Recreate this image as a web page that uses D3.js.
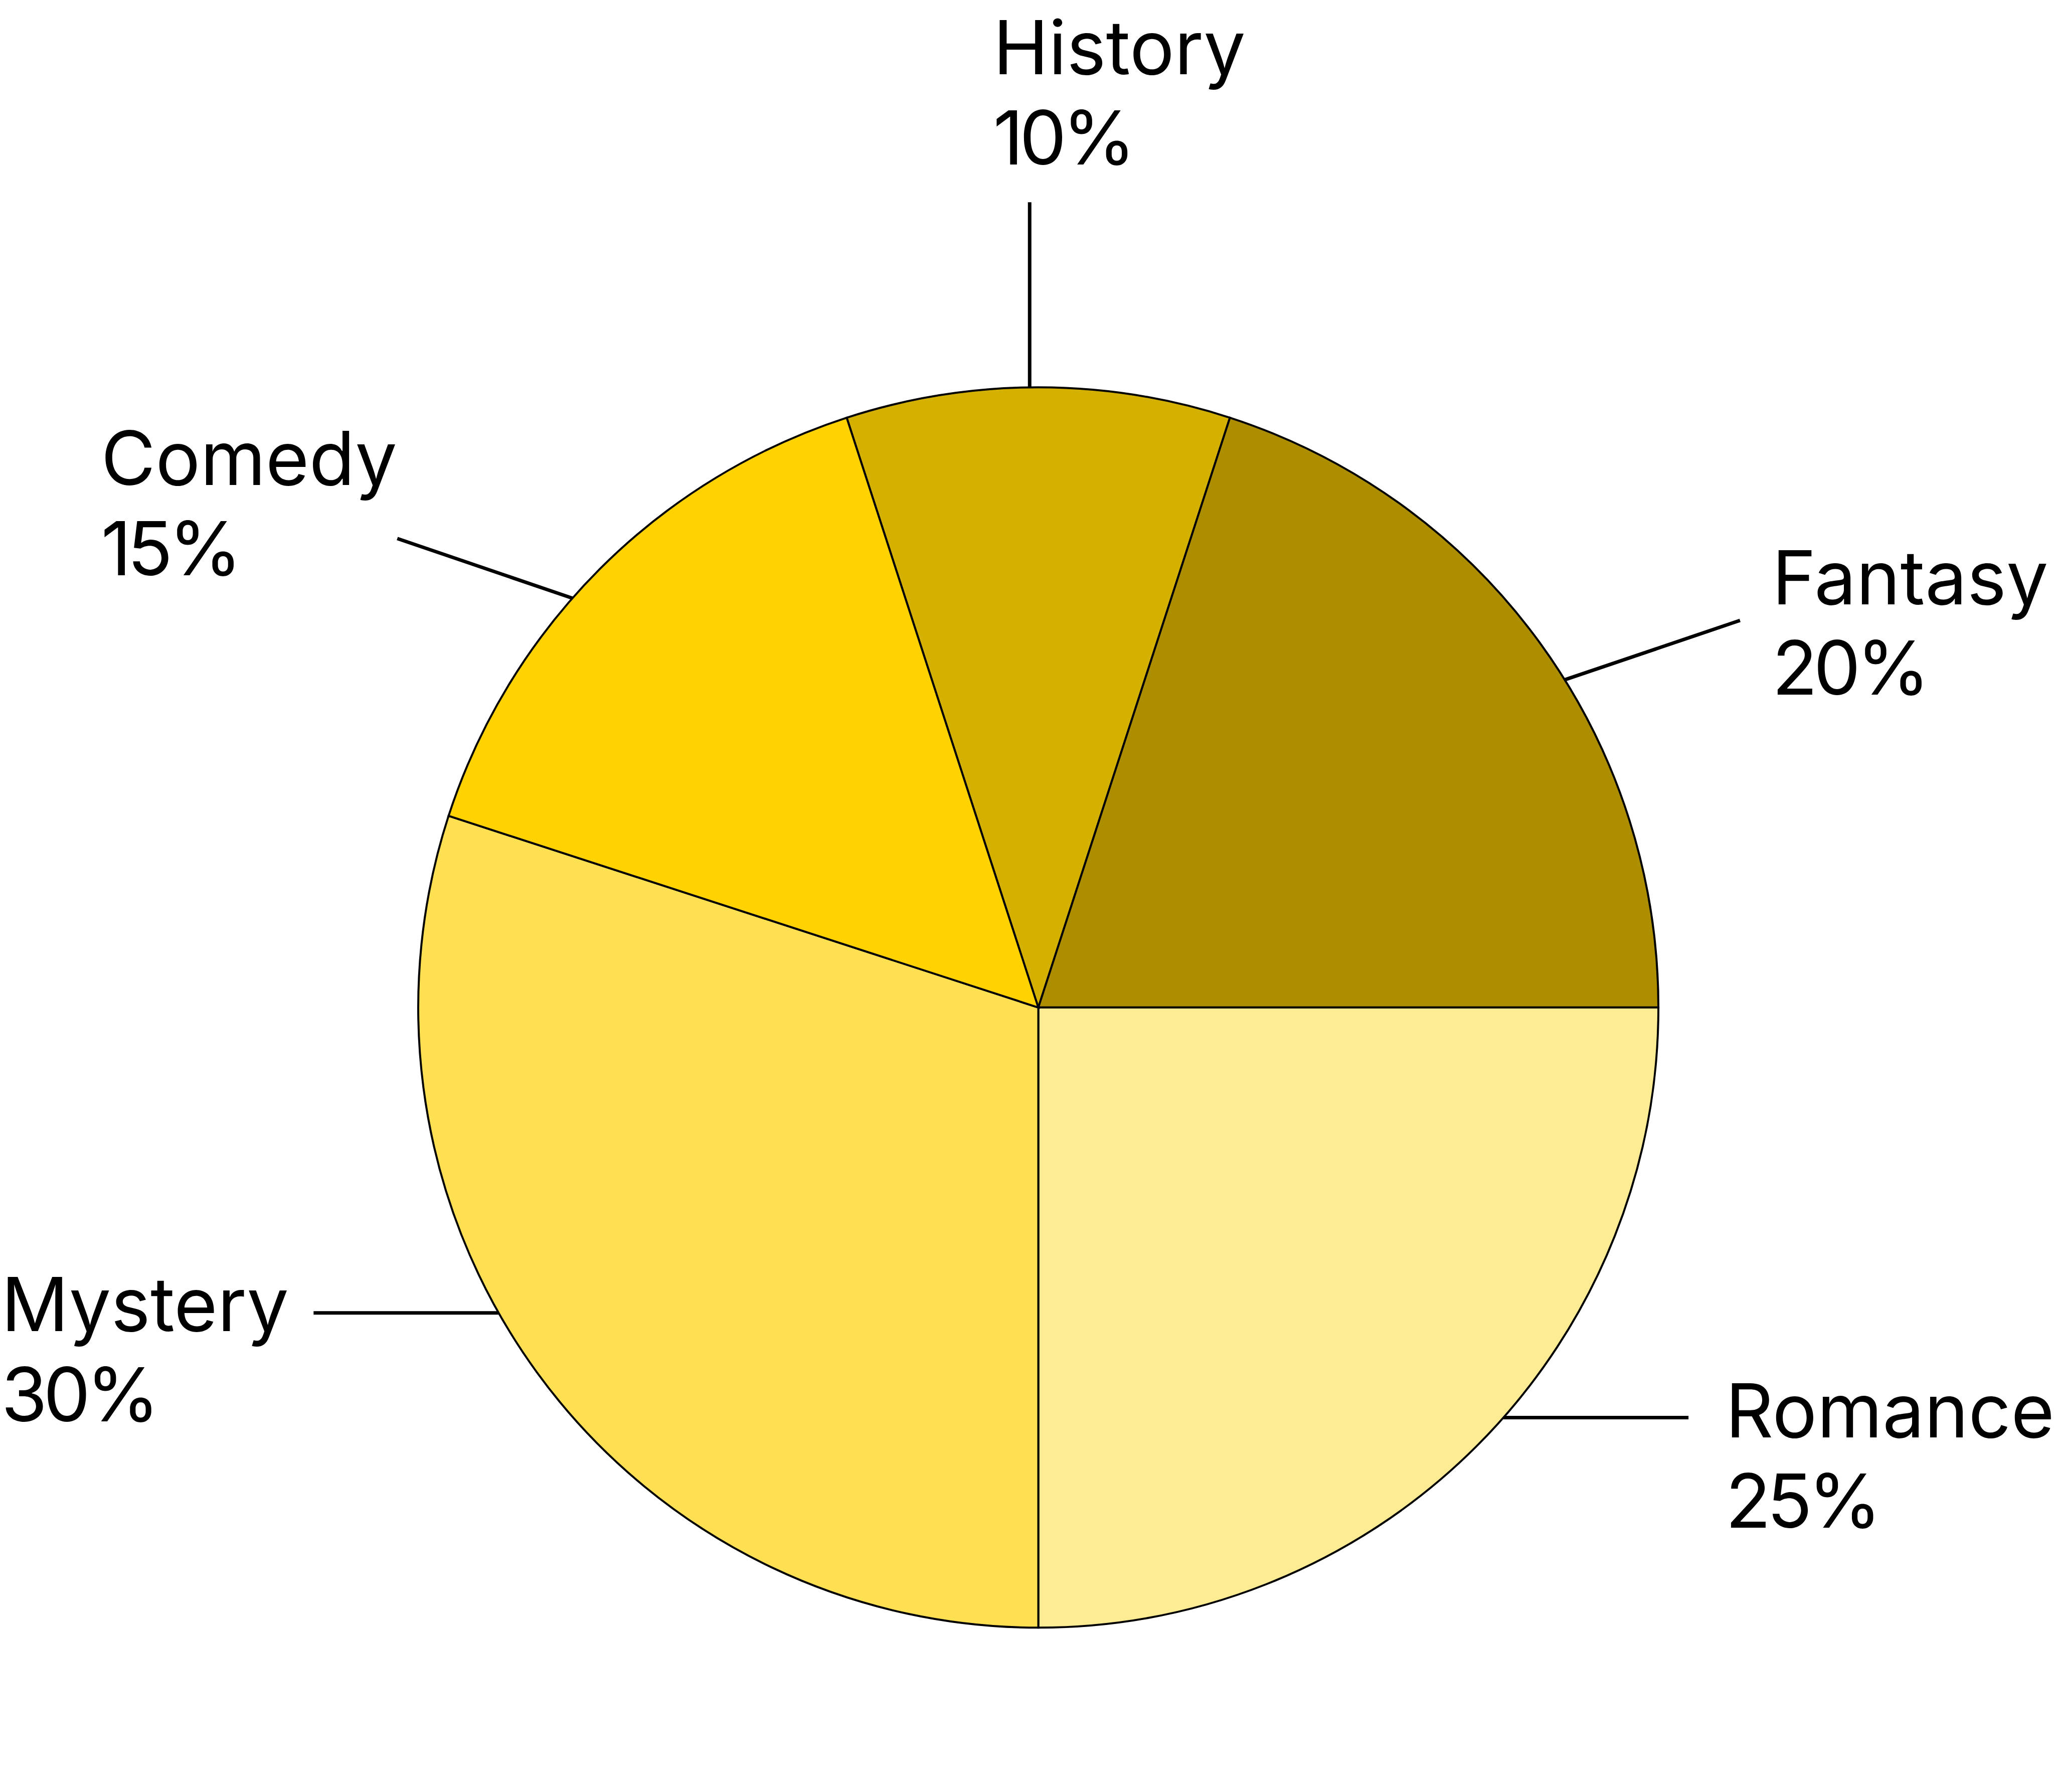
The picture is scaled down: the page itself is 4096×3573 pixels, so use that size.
<!DOCTYPE html>
<html>
<head>
<meta charset="utf-8">
<script src="https://cdn.jsdelivr.net/npm/d3@7"></script>
<style>
  html, body { margin: 0; padding: 0; background: #ffffff; }
  svg { display: block; }
</style>
</head>
<body>
<script>
// ---- data ----
const categories = ["History", "Fantasy", "Romance", "Mystery", "Comedy"];
const values = [10, 20, 25, 30, 15];
const colors = ["#d4b000", "#ad8e00", "#feec94", "#fee052", "#ffd200"];

// ---- layout (reference px scaled by k) ----
const W = 4096, H = 3573, k = 0.744;
const cx = 2783 * k, cy = 2700 * k, R = 1662 * k;
const fontSize = 200 * k, lineStep = 242 * k, leaderLen = 496 * k;

// per-label leader start angle on the arc (deg, clockwise from top), leader direction (deg, screen),
// and text offset from the leader end (reference px)
const labelLayout = {
  History: { at: -0.8, dir: -90,   tx: -98,  ty: -343 },
  Fantasy: { at: 58.1, dir: -18.7, tx: 86,   ty: -43 },
  Romance: { at: 131.4, dir: 0,    tx: 99,   ty: 53 },
  Mystery: { at: 240.5, dir: 180,  tx: -837, ty: 49 },
  Comedy:  { at: 311.3, dir: 198.8, tx: -794, ty: -143 }
};

const svg = d3.select("body").append("svg")
  .attr("width", W).attr("height", H)
  .attr("viewBox", `0 0 ${W} ${H}`);

const data = categories.map((c, i) => ({ name: c, value: values[i], color: colors[i] }));

const pie = d3.pie()
  .sort(null)
  .value(d => d.value)
  .startAngle(-Math.PI / 10)
  .endAngle(2 * Math.PI - Math.PI / 10);

const arc = d3.arc().innerRadius(0).outerRadius(R);

const g = svg.append("g").attr("transform", `translate(${cx},${cy})`);

g.selectAll("path.slice")
  .data(pie(data))
  .join("path")
  .attr("class", "slice")
  .attr("d", arc)
  .attr("fill", d => d.data.color)
  .attr("stroke", "#000000")
  .attr("stroke-width", 4)
  .attr("stroke-linejoin", "miter");

// leaders and labels
const labels = svg.append("g");
pie(data).forEach(d => {
  const L = labelLayout[d.data.name];
  const a = L.at * Math.PI / 180;
  const x0 = cx + R * Math.sin(a), y0 = cy - R * Math.cos(a);
  const dr = L.dir * Math.PI / 180;
  const x1 = x0 + leaderLen * Math.cos(dr), y1 = y0 + leaderLen * Math.sin(dr);
  labels.append("line")
    .attr("x1", x0).attr("y1", y0).attr("x2", x1).attr("y2", y1)
    .attr("stroke", "#000000").attr("stroke-width", 7);
  const t = labels.append("text")
    .attr("x", x1 + L.tx * k).attr("y", y1 + L.ty * k)
    .attr("font-family", "Inter, 'Noto Sans', sans-serif")
    .attr("font-size", fontSize)
    .attr("fill", "#000000");
  t.append("tspan").attr("x", x1 + L.tx * k).attr("dy", 0).text(d.data.name);
  t.append("tspan").attr("x", x1 + L.tx * k).attr("dy", lineStep)
    .attr("letter-spacing", -8)
    .text(d.data.value + "%");
});
</script>
</body>
</html>
